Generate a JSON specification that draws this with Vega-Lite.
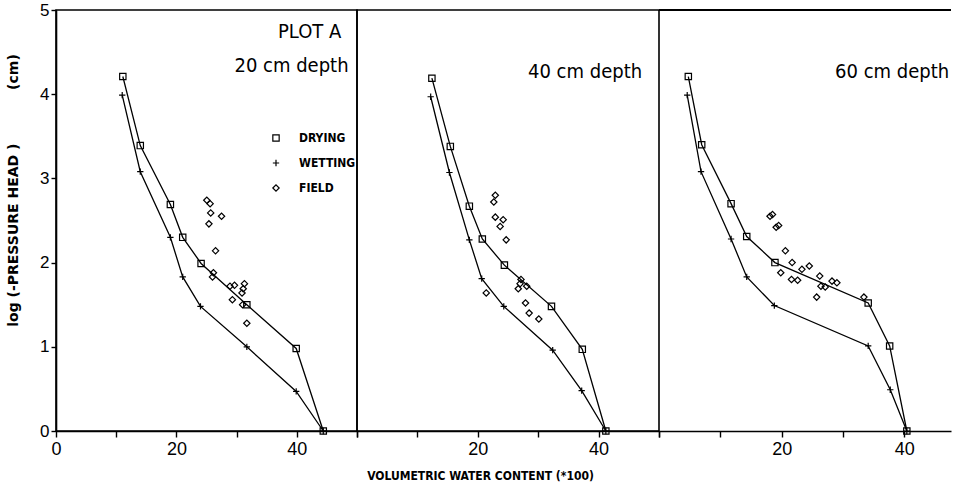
{
  "$schema": "https://vega.github.io/schema/vega-lite/v6.json",
  "padding": {"left": 5, "top": 0, "right": 0, "bottom": 2},
  "spacing": 0,
  "bounds": "flush",
  "background": "white",
  "config": {
    "font": "Liberation Sans",
    "view": {"stroke": "black", "strokeWidth": 1.6},
    "axis": {"grid": false, "domainColor": "black", "domainWidth": 1.6, "tickColor": "black", "tickWidth": 1.4, "labelColor": "black", "titleColor": "black", "labelFont": "Liberation Sans", "labelFlush": false, "labelOverlap": false}
  },
  "datasets": {
    "d": [
      {"p": 1, "s": "DRYING", "x": 11.1, "y": 4.21},
      {"p": 1, "s": "DRYING", "x": 14.0, "y": 3.39},
      {"p": 1, "s": "DRYING", "x": 19.0, "y": 2.69},
      {"p": 1, "s": "DRYING", "x": 21.05, "y": 2.3},
      {"p": 1, "s": "DRYING", "x": 24.1, "y": 1.99},
      {"p": 1, "s": "DRYING", "x": 31.7, "y": 1.5},
      {"p": 1, "s": "DRYING", "x": 39.9, "y": 0.98},
      {"p": 1, "s": "DRYING", "x": 44.4, "y": 0},
      {"p": 1, "s": "WETTING", "x": 11.0, "y": 3.99},
      {"p": 1, "s": "WETTING", "x": 14.0, "y": 3.08},
      {"p": 1, "s": "WETTING", "x": 19.0, "y": 2.3},
      {"p": 1, "s": "WETTING", "x": 21.05, "y": 1.83},
      {"p": 1, "s": "WETTING", "x": 24.0, "y": 1.48},
      {"p": 1, "s": "WETTING", "x": 31.7, "y": 1.0},
      {"p": 1, "s": "WETTING", "x": 39.9, "y": 0.47},
      {"p": 1, "s": "WETTING", "x": 44.4, "y": 0},
      {"p": 1, "s": "FIELD", "x": 25.05, "y": 2.74},
      {"p": 1, "s": "FIELD", "x": 25.6, "y": 2.7},
      {"p": 1, "s": "FIELD", "x": 25.7, "y": 2.59},
      {"p": 1, "s": "FIELD", "x": 27.5, "y": 2.55},
      {"p": 1, "s": "FIELD", "x": 25.4, "y": 2.46},
      {"p": 1, "s": "FIELD", "x": 26.5, "y": 2.14},
      {"p": 1, "s": "FIELD", "x": 26.15, "y": 1.88},
      {"p": 1, "s": "FIELD", "x": 26.0, "y": 1.83},
      {"p": 1, "s": "FIELD", "x": 28.9, "y": 1.72},
      {"p": 1, "s": "FIELD", "x": 29.65, "y": 1.73},
      {"p": 1, "s": "FIELD", "x": 31.3, "y": 1.75},
      {"p": 1, "s": "FIELD", "x": 31.1, "y": 1.69},
      {"p": 1, "s": "FIELD", "x": 30.9, "y": 1.64},
      {"p": 1, "s": "FIELD", "x": 29.3, "y": 1.56},
      {"p": 1, "s": "FIELD", "x": 31.0, "y": 1.5},
      {"p": 1, "s": "FIELD", "x": 31.7, "y": 1.28},
      {"p": 2, "s": "DRYING", "x": 12.4, "y": 4.19},
      {"p": 2, "s": "DRYING", "x": 15.45, "y": 3.38},
      {"p": 2, "s": "DRYING", "x": 18.6, "y": 2.67},
      {"p": 2, "s": "DRYING", "x": 20.75, "y": 2.28},
      {"p": 2, "s": "DRYING", "x": 24.4, "y": 1.97},
      {"p": 2, "s": "DRYING", "x": 32.2, "y": 1.48},
      {"p": 2, "s": "DRYING", "x": 37.3, "y": 0.97},
      {"p": 2, "s": "DRYING", "x": 41.2, "y": 0},
      {"p": 2, "s": "WETTING", "x": 12.2, "y": 3.97},
      {"p": 2, "s": "WETTING", "x": 15.3, "y": 3.07},
      {"p": 2, "s": "WETTING", "x": 18.6, "y": 2.27},
      {"p": 2, "s": "WETTING", "x": 20.65, "y": 1.81},
      {"p": 2, "s": "WETTING", "x": 24.3, "y": 1.48},
      {"p": 2, "s": "WETTING", "x": 32.4, "y": 0.96},
      {"p": 2, "s": "WETTING", "x": 37.2, "y": 0.48},
      {"p": 2, "s": "WETTING", "x": 41.2, "y": 0},
      {"p": 2, "s": "FIELD", "x": 22.9, "y": 2.8},
      {"p": 2, "s": "FIELD", "x": 22.65, "y": 2.72},
      {"p": 2, "s": "FIELD", "x": 22.9, "y": 2.54},
      {"p": 2, "s": "FIELD", "x": 24.2, "y": 2.51},
      {"p": 2, "s": "FIELD", "x": 23.7, "y": 2.43},
      {"p": 2, "s": "FIELD", "x": 24.7, "y": 2.27},
      {"p": 2, "s": "FIELD", "x": 27.15, "y": 1.8},
      {"p": 2, "s": "FIELD", "x": 28.1, "y": 1.72},
      {"p": 2, "s": "FIELD", "x": 26.7, "y": 1.69},
      {"p": 2, "s": "FIELD", "x": 27.0, "y": 1.75},
      {"p": 2, "s": "FIELD", "x": 21.4, "y": 1.64},
      {"p": 2, "s": "FIELD", "x": 27.9, "y": 1.52},
      {"p": 2, "s": "FIELD", "x": 28.5, "y": 1.4},
      {"p": 2, "s": "FIELD", "x": 30.1, "y": 1.33},
      {"p": 3, "s": "DRYING", "x": 4.78, "y": 4.21},
      {"p": 3, "s": "DRYING", "x": 6.96, "y": 3.4},
      {"p": 3, "s": "DRYING", "x": 11.75, "y": 2.7},
      {"p": 3, "s": "DRYING", "x": 14.3, "y": 2.31},
      {"p": 3, "s": "DRYING", "x": 18.9, "y": 2.0},
      {"p": 3, "s": "DRYING", "x": 34.1, "y": 1.52},
      {"p": 3, "s": "DRYING", "x": 37.6, "y": 1.01},
      {"p": 3, "s": "DRYING", "x": 40.4, "y": 0},
      {"p": 3, "s": "WETTING", "x": 4.6, "y": 3.99},
      {"p": 3, "s": "WETTING", "x": 6.85, "y": 3.08},
      {"p": 3, "s": "WETTING", "x": 11.75, "y": 2.28},
      {"p": 3, "s": "WETTING", "x": 14.3, "y": 1.83},
      {"p": 3, "s": "WETTING", "x": 18.8, "y": 1.49},
      {"p": 3, "s": "WETTING", "x": 34.1, "y": 1.01},
      {"p": 3, "s": "WETTING", "x": 37.7, "y": 0.49},
      {"p": 3, "s": "WETTING", "x": 40.4, "y": 0},
      {"p": 3, "s": "FIELD", "x": 18.1, "y": 2.55},
      {"p": 3, "s": "FIELD", "x": 18.5, "y": 2.57},
      {"p": 3, "s": "FIELD", "x": 19.1, "y": 2.42},
      {"p": 3, "s": "FIELD", "x": 19.5, "y": 2.44},
      {"p": 3, "s": "FIELD", "x": 20.6, "y": 2.14},
      {"p": 3, "s": "FIELD", "x": 19.85, "y": 1.88},
      {"p": 3, "s": "FIELD", "x": 21.7, "y": 2.0},
      {"p": 3, "s": "FIELD", "x": 21.6, "y": 1.8},
      {"p": 3, "s": "FIELD", "x": 22.6, "y": 1.79},
      {"p": 3, "s": "FIELD", "x": 23.3, "y": 1.92},
      {"p": 3, "s": "FIELD", "x": 24.5, "y": 1.96},
      {"p": 3, "s": "FIELD", "x": 26.2, "y": 1.84},
      {"p": 3, "s": "FIELD", "x": 26.4, "y": 1.72},
      {"p": 3, "s": "FIELD", "x": 27.1, "y": 1.71},
      {"p": 3, "s": "FIELD", "x": 28.2, "y": 1.78},
      {"p": 3, "s": "FIELD", "x": 29.0, "y": 1.76},
      {"p": 3, "s": "FIELD", "x": 25.7, "y": 1.59},
      {"p": 3, "s": "FIELD", "x": 33.4, "y": 1.59}
    ]
  },
  "resolve": {"scale": {"x": "independent", "y": "independent", "shape": "independent"}, "legend": {"shape": "independent"}},
  "hconcat": [
    {
      "width": 301,
      "height": 421,
      "layer": [
        {
          "data": {"name": "d"},
          "transform": [{"filter": "datum.p == 1 && datum.s != 'FIELD'"}],
          "mark": {"type": "line", "color": "black", "strokeWidth": 1.3},
          "encoding": {
            "x": {"field": "x", "type": "quantitative", "scale": {"domain": [0, 50], "nice": false},
              "axis": {"values": [0, 10, 20, 30, 40, 50], "labelExpr": "datum.value % 20 == 0 ? datum.label : ''", "title": null, "tickSize": 6, "labelFontSize": 18, "labelPadding": 3}},
            "y": {"field": "y", "type": "quantitative", "scale": {"domain": [0, 5], "nice": false},
              "axis": {"values": [0, 1, 2, 3, 4, 5], "format": "d", "tickSize": 5, "labelFontSize": 17, "labelPadding": 2,
                "title": "log (-PRESSURE HEAD )\u00a0\u00a0\u00a0\u00a0\u00a0\u00a0\u00a0\u00a0\u00a0\u00a0\u00a0(cm)",
                "titleFont": "DejaVu Sans", "titleFontSize": 14, "titleFontWeight": "bold", "titlePadding": 19, "titleY": 180}},
            "detail": {"field": "s"}
          }
        },
        {
          "data": {"name": "d"},
          "transform": [{"filter": "datum.p == 1"}],
          "mark": {"type": "point", "filled": false, "color": "black", "strokeWidth": 1.2, "size": 40, "opacity": 1},
          "encoding": {
            "x": {"field": "x", "type": "quantitative"},
            "y": {"field": "y", "type": "quantitative"},
            "shape": {"field": "s", "type": "nominal",
              "scale": {"domain": ["DRYING", "WETTING", "FIELD"], "range": ["square", "M-1,0H1M0,-1V1", "diamond"]},
              "legend": {"title": null, "orient": "none", "legendX": 214, "legendY": 122, "labelFont": "DejaVu Sans Condensed", "labelFontSize": 12, "labelFontWeight": "bold", "labelColor": "black", "symbolStrokeColor": "black", "symbolStrokeWidth": 1.2, "symbolSize": 40, "rowPadding": 13, "labelOffset": 17}}
          }
        },
        {
          "data": {"values": [{}]},
          "mark": {"type": "text", "align": "right", "baseline": "middle", "font": "DejaVu Sans Condensed", "fontSize": 20, "color": "black"},
          "encoding": {"x": {"datum": 47.4}, "y": {"datum": 4.74}, "text": {"value": "PLOT A"}}
        },
        {
          "data": {"values": [{}]},
          "mark": {"type": "text", "align": "right", "baseline": "middle", "font": "DejaVu Sans Condensed", "fontSize": 20, "color": "black"},
          "encoding": {"x": {"datum": 48.6}, "y": {"datum": 4.33}, "text": {"value": "20 cm depth"}}
        }
      ]
    },
    {
      "width": 302,
      "height": 421,
      "layer": [
        {
          "data": {"name": "d"},
          "transform": [{"filter": "datum.p == 2 && datum.s != 'FIELD'"}],
          "mark": {"type": "line", "color": "black", "strokeWidth": 1.3},
          "encoding": {
            "x": {"field": "x", "type": "quantitative", "scale": {"domain": [0, 50], "nice": false},
              "axis": {"values": [0, 10, 20, 30, 40, 50], "labelExpr": "datum.value == 20 || datum.value == 40 ? datum.label : ''", "tickSize": 6, "labelFontSize": 18, "labelPadding": 3,
                "title": "VOLUMETRIC WATER CONTENT (*100)", "titleFont": "DejaVu Sans Condensed", "titleFontSize": 12, "titleFontWeight": "bold", "titleX": 123, "titlePadding": 12}},
            "y": {"field": "y", "type": "quantitative", "scale": {"domain": [0, 5], "nice": false}, "axis": null},
            "detail": {"field": "s"}
          }
        },
        {
          "data": {"name": "d"},
          "transform": [{"filter": "datum.p == 2"}],
          "mark": {"type": "point", "filled": false, "color": "black", "strokeWidth": 1.2, "size": 40, "opacity": 1},
          "encoding": {
            "x": {"field": "x", "type": "quantitative"},
            "y": {"field": "y", "type": "quantitative"},
            "shape": {"field": "s", "type": "nominal",
              "scale": {"domain": ["DRYING", "WETTING", "FIELD"], "range": ["square", "M-1,0H1M0,-1V1", "diamond"]},
              "legend": null}
          }
        },
        {
          "data": {"values": [{}]},
          "mark": {"type": "text", "align": "right", "baseline": "middle", "font": "DejaVu Sans Condensed", "fontSize": 20, "color": "black"},
          "encoding": {"x": {"datum": 47.2}, "y": {"datum": 4.26}, "text": {"value": "40 cm depth"}}
        }
      ]
    },
    {
      "width": 292,
      "height": 421,
      "view": {"stroke": null},
      "layer": [
        {
          "data": {"name": "d"},
          "transform": [{"filter": "datum.p == 3 && datum.s != 'FIELD'"}],
          "mark": {"type": "line", "color": "black", "strokeWidth": 1.3},
          "encoding": {
            "x": {"field": "x", "type": "quantitative", "scale": {"domain": [0, 47.6], "nice": false},
              "axis": {"values": [0, 10, 20, 30, 40], "labelExpr": "datum.value == 20 || datum.value == 40 ? datum.label : ''", "title": null, "tickSize": 6, "labelFontSize": 18, "labelPadding": 3}},
            "y": {"field": "y", "type": "quantitative", "scale": {"domain": [0, 5], "nice": false}, "axis": null},
            "detail": {"field": "s"}
          }
        },
        {
          "data": {"name": "d"},
          "transform": [{"filter": "datum.p == 3"}],
          "mark": {"type": "point", "filled": false, "color": "black", "strokeWidth": 1.2, "size": 40, "opacity": 1},
          "encoding": {
            "x": {"field": "x", "type": "quantitative"},
            "y": {"field": "y", "type": "quantitative"},
            "shape": {"field": "s", "type": "nominal",
              "scale": {"domain": ["DRYING", "WETTING", "FIELD"], "range": ["square", "M-1,0H1M0,-1V1", "diamond"]},
              "legend": null}
          }
        },
        {
          "data": {"values": [{}]},
          "mark": {"type": "rule", "color": "black", "strokeWidth": 1.8},
          "encoding": {"y": {"datum": 5}}
        },
        {
          "data": {"values": [{}]},
          "mark": {"type": "text", "align": "right", "baseline": "middle", "font": "DejaVu Sans Condensed", "fontSize": 20, "color": "black"},
          "encoding": {"x": {"datum": 47.3}, "y": {"datum": 4.26}, "text": {"value": "60 cm depth"}}
        }
      ]
    }
  ]
}
